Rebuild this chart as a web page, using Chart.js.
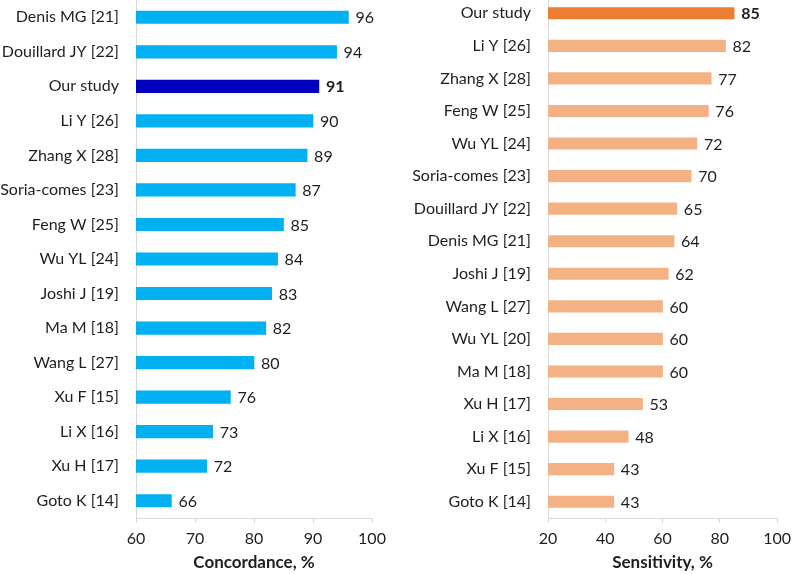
<!DOCTYPE html>
<html><head><meta charset="utf-8">
<script src="https://cdn.jsdelivr.net/npm/chart.js@4"></script>
<style>
html,body{margin:0;padding:0;background:#fff;overflow:hidden}
#wrap{position:relative;width:797px;height:574px;overflow:hidden}
.box{position:absolute}
</style></head><body>
<div id="wrap">
<div class="box" style="left:0;top:0;width:400px;height:574px"><canvas id="c1"></canvas></div>
<div class="box" style="left:400px;top:-3px;width:397px;height:577px"><canvas id="c2"></canvas></div>
</div>
<script>
const concordanceStudies = ["Denis MG [21]","Douillard JY [22]","Our study","Li Y [26]","Zhang X [28]","Soria-comes [23]","Feng W [25]","Wu YL [24]","Joshi J [19]","Ma M [18]","Wang L [27]","Xu F [15]","Li X [16]","Xu H [17]","Goto K [14]"];
const concordanceValues = [96,94,91,90,89,87,85,84,83,82,80,76,73,72,66];
const concordanceTicks = [60,70,80,90,100];

const sensitivityStudies = ["Our study","Li Y [26]","Zhang X [28]","Feng W [25]","Wu YL [24]","Soria-comes [23]","Douillard JY [22]","Denis MG [21]","Joshi J [19]","Wang L [27]","Wu YL [20]","Ma M [18]","Xu H [17]","Li X [16]","Xu F [15]","Goto K [14]"];
const sensitivityValues = [85,82,77,76,72,70,65,64,62,60,60,60,53,48,43,43];
const sensitivityTicks = [20,40,60,80,100];

const highlightLabel = "Our study";
const FONT = "Lato";
const TXT = "#1e1e1e";

const valueLabels = {
  id: 'valueLabels',
  afterDatasetsDraw(chart) {
    const ctx = chart.ctx;
    const meta = chart.getDatasetMeta(0);
    const ds = chart.data.datasets[0];
    ctx.save();
    ctx.fillStyle = TXT;
    ctx.textBaseline = 'middle';
    ctx.textAlign = 'left';
    meta.data.forEach((bar, i) => {
      const bold = chart.data.labels[i] === highlightLabel;
      ctx.font = (bold ? 'bold ' : '') + '16px ' + FONT;
      ctx.fillText(String(ds.data[i]), bar.x + 7, bar.y + 1);
    });
    ctx.restore();
  }
};

function makeChart(id, labels, values, ticks, base, hi, title, yWidth, padRight, thick) {
  new Chart(document.getElementById(id), {
    type: 'bar',
    data: {
      labels: labels,
      datasets: [{
        data: values,
        backgroundColor: labels.map(l => l === highlightLabel ? hi : base),
        barThickness: thick,
        borderWidth: 0
      }]
    },
    options: {
      indexAxis: 'y',
      responsive: true,
      maintainAspectRatio: false,
      animation: false,
      layout: { padding: { left: 0, top: 0, right: padRight, bottom: 0 } },
      plugins: { legend: { display: false }, tooltip: { enabled: false } },
      scales: {
        x: {
          type: 'linear',
          min: ticks[0],
          max: ticks[ticks.length - 1],
          afterBuildTicks: s => { s.ticks = ticks.map(v => ({ value: v })); },
          afterFit: s => { s.height = 56; },
          grid: { drawOnChartArea: false, drawTicks: true, tickLength: 5, color: '#D9D9D9' },
          border: { color: '#D9D9D9', width: 1 },
          ticks: { padding: 6, color: TXT, font: { family: FONT, size: 16 } },
          title: { display: true, text: title, color: TXT, padding: { top: 4, bottom: 1 }, font: { family: FONT, size: 17, weight: 'bold' } }
        },
        y: {
          afterFit: s => { s.width = yWidth; s.paddingTop = 0; s.paddingBottom = 0; },
          grid: { display: true, drawOnChartArea: false, drawTicks: false },
          border: { color: '#D9D9D9', width: 1 },
          ticks: { padding: 17, color: TXT, font: { family: FONT, size: 16 } }
        }
      }
    },
    plugins: [valueLabels]
  });
}

makeChart('c1', concordanceStudies, concordanceValues, concordanceTicks, '#00B0F0', '#0000C0', 'Concordance, %', 136, 28, 12.5);
makeChart('c2', sensitivityStudies, sensitivityValues, sensitivityTicks, '#F4B183', '#ED7D31', 'Sensitivity, %', 148, 14, 11.5);
</script>
</body></html>
